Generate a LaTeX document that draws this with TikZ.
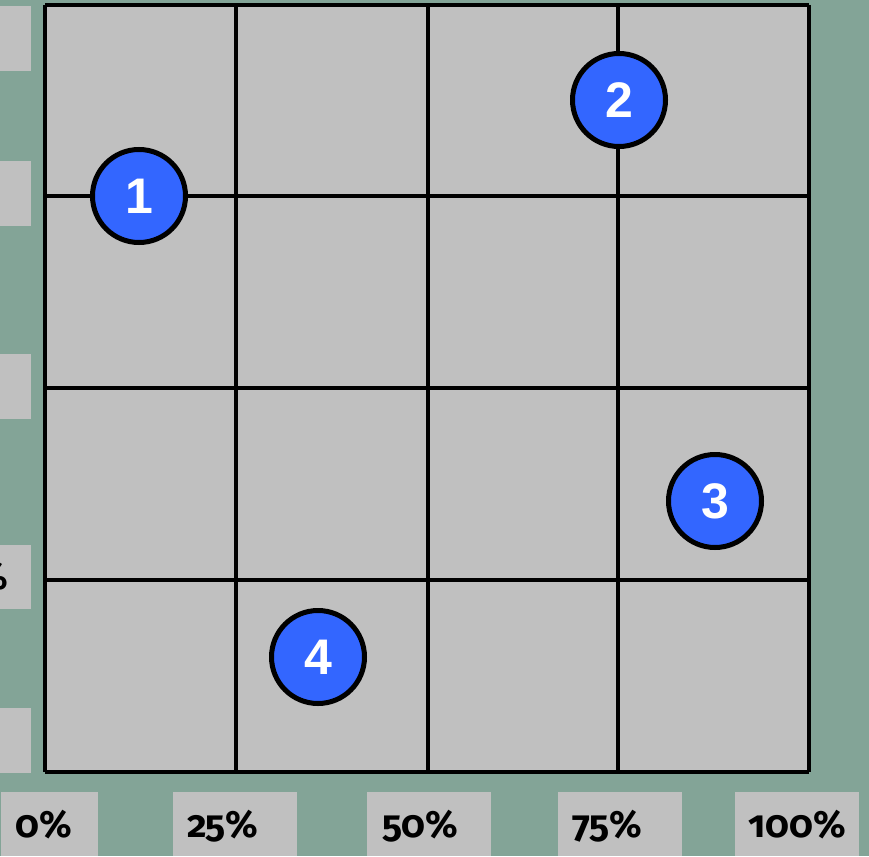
\documentclass[tikz,border=0pt]{standalone}
\usepackage{fontspec}
\usepackage{tikz}
\usetikzlibrary{calc, positioning}
\newfontfamily\pctfont[Numbers=OldStyle]{Fira Sans}
\newfontfamily\dotfont{Liberation Sans}
\definecolor{bgGreen}{RGB}{131, 164, 151}
\definecolor{cellGray}{RGB}{192, 192, 192}
\definecolor{dotBlue}{RGB}{51, 102, 255}

\begin{document}
\begin{tikzpicture}[
  x=1pt, y=-1pt,
  gridline/.style={line width=3.3pt, black},
  lblbox/.style={fill=cellGray, draw=none, inner sep=0pt},
  lbltext/.style={anchor=base west, inner sep=0pt,
                  font=\pctfont\bfseries\fontsize{38}{38}\selectfont},
  dot/.style={circle, draw=black, line width=5pt, fill=dotBlue,
              minimum size=93pt, inner sep=0pt, text=white,
              font=\dotfont\bfseries\fontsize{50}{50}\selectfont}
]
  \useasboundingbox (0,0) rectangle (869,856);
  \fill[bgGreen] (0,0) rectangle (869,856);

  % side boxes, cut by the page edge
  \begin{scope}
    \clip (0,0) rectangle (869,856);
    \fill[cellGray] (-40,6) rectangle (31,71);
    \fill[cellGray] (-40,161) rectangle (31,226);
    \fill[cellGray] (-40,354) rectangle (31,419);
    \fill[cellGray] (-40,545) rectangle (31,609);
    \fill[cellGray] (-40,708) rectangle (31,773);
    \node[lbltext, anchor=base east] (side) at (8,589) {\%};
  \end{scope}

  % the grid
  \fill[cellGray] (45,5) rectangle (809,772);
  \foreach \gx in {45, 236, 428, 618, 809}
    \draw[gridline] (\gx,5) -- (\gx,772);
  \foreach \gy in {5, 196, 388, 580, 772}
    \draw[gridline] (45,\gy) -- (809,\gy);

  % scale along the bottom
  \node[lblbox, minimum width=97pt, minimum height=64pt] (b0) at (49.5,824) {};
  \node[lblbox, minimum width=124pt, minimum height=64pt] (b25) at (235,824) {};
  \node[lblbox, minimum width=124pt, minimum height=64pt] (b50) at (429,824) {};
  \node[lblbox, minimum width=124pt, minimum height=64pt] (b75) at (620,824) {};
  \node[lblbox, minimum width=124pt, minimum height=64pt] (b100) at (797,824) {};
  \node[lbltext] (t0) at (15,837) {0\%};
  \node[lbltext] (t25) at (187,837) {25\%};
  \node[lbltext] (t50) at (382,837) {50\%};
  \node[lbltext] (t75) at (572,837) {75\%};
  \node[lbltext] (t100) at (748,837) {100\%};

  % the points
  \node[dot] (p1) at (139,196) {1};
  \node[dot] (p2) at (619,100) {2};
  \node[dot] (p3) at (715,501) {3};
  \node[dot] (p4) at (318,657) {4};
\end{tikzpicture}
\end{document}
